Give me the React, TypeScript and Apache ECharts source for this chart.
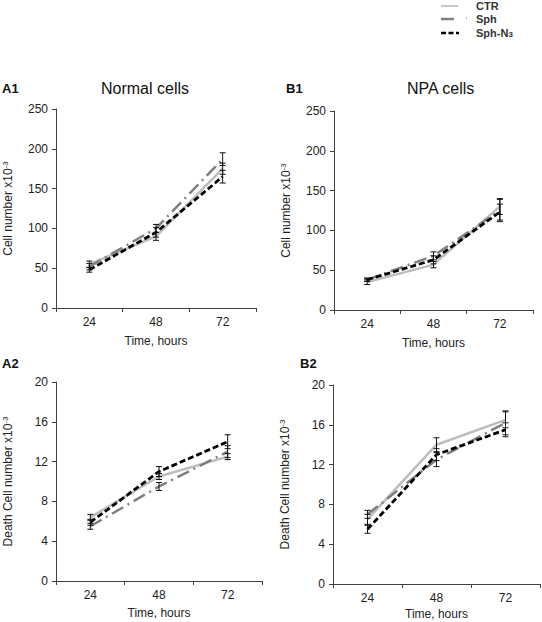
import React, { useEffect, useRef } from "react";
import * as echarts from "echarts";

const categories = ["24", "48", "72"];
const seriesNames = ["CTR", "Sph", "Sph-N3"];

// Panel A1 – Normal cells, cell number x10^-3
const a1CTR = [55, 90, 175];
const a1Sph = [52, 100, 187];
const a1SphN3 = [48, 95, 165];
const a1CTRErr = [4, 5, 7];
const a1SphErr = [4, 5, 8];
const a1SphN3Err = [3, 6, 8];

// Panel B1 – NPA cells, cell number x10^-3
const b1CTR = [35, 57, 130];
const b1Sph = [38, 68, 125];
const b1SphN3 = [38, 63, 123];
const b1CTRErr = [3, 4, 10];
const b1SphErr = [2, 5, 14];
const b1SphN3Err = [2, 5, 10];

// Panel A2 – Normal cells, death cell number x10^-3
const a2CTR = [6.4, 10.5, 12.5];
const a2Sph = [5.5, 9.5, 13];
const a2SphN3 = [5.9, 11, 14];
const a2CTRErr = [0.3, 0.3, 0.3];
const a2SphErr = [0.3, 0.4, 0.6];
const a2SphN3Err = [0.3, 0.5, 0.7];

// Panel B2 – NPA cells, death cell number x10^-3
const b2CTR = [6.5, 14, 16.5];
const b2Sph = [7, 12.5, 16.2];
const b2SphN3 = [5.5, 13, 15.5];
const b2CTRErr = [0.5, 0.7, 0.8];
const b2SphErr = [0.4, 0.7, 1.2];
const b2SphN3Err = [0.4, 0.6, 0.7];

const FONT = "'Liberation Sans', Arial, sans-serif";
const TXT = "#222";

const lineStyles = [
  { color: "#bdbdbd", width: 2.5, type: "solid" as any },
  { color: "#7f7f7f", width: 2.5, type: [13, 5, 2, 5] as any },
  { color: "#000000", width: 2.8, type: [6, 3] as any },
];

export default function App() {
  const ref = useRef<HTMLDivElement>(null);
  useEffect(() => {
    if (!ref.current) return;
    const chart = echarts.init(ref.current, null, { renderer: "svg" });

    const grids = [
      { left: 56, top: 109, width: 200, height: 199 },
      { left: 334, top: 111, width: 199, height: 199 },
      { left: 56, top: 382, width: 206, height: 199 },
      { left: 333, top: 385, width: 207, height: 199 },
    ];
    const xNameGaps = [27, 27, 26, 24];

    const panels = [
      { vals: [a1CTR, a1Sph, a1SphN3], errs: [a1CTRErr, a1SphErr, a1SphN3Err], max: 250, interval: 50, name: "Cell number x10" },
      { vals: [b1CTR, b1Sph, b1SphN3], errs: [b1CTRErr, b1SphErr, b1SphN3Err], max: 250, interval: 50, name: "Cell number x10" },
      { vals: [a2CTR, a2Sph, a2SphN3], errs: [a2CTRErr, a2SphErr, a2SphN3Err], max: 20, interval: 4, name: "Death Cell number x10" },
      { vals: [b2CTR, b2Sph, b2SphN3], errs: [b2CTRErr, b2SphErr, b2SphN3Err], max: 20, interval: 4, name: "Death Cell number x10" },
    ];

    const axisLine = { show: true, lineStyle: { color: "#404040", width: 1 } };

    const xAxis = grids.map((_, i) => ({
      type: "category",
      gridIndex: i,
      data: categories,
      boundaryGap: true,
      axisLine,
      axisTick: { show: true, length: 4, lineStyle: { color: "#404040" } },
      axisLabel: { color: TXT, fontSize: 12, fontFamily: FONT, margin: 8 },
      name: "Time, hours",
      nameLocation: "middle",
      nameGap: xNameGaps[i],
      nameTextStyle: { color: TXT, fontSize: 12, fontFamily: FONT, fontWeight: "normal" },
    }));

    const yAxis = panels.map((p, i) => ({
      type: "value",
      gridIndex: i,
      min: 0,
      max: p.max,
      interval: p.interval,
      splitLine: { show: false },
      axisLine,
      axisTick: { show: true, length: 4, lineStyle: { color: "#404040" } },
      axisLabel: { color: TXT, fontSize: 12, fontFamily: FONT, margin: 8 },
      name: p.name + "{sup|-3}",
      nameLocation: "middle",
      nameGap: 41,
      nameTextStyle: {
        color: TXT,
        fontSize: 12,
        fontFamily: FONT,
        fontWeight: "normal",
        rich: {
          sup: { fontSize: 8, fontFamily: FONT, color: TXT, verticalAlign: "top", lineHeight: 14 },
        },
      },
    }));

    const series: any[] = [];
    panels.forEach((p, gi) => {
      p.vals.forEach((vals, si) => {
        series.push({
          type: "line",
          name: seriesNames[si],
          xAxisIndex: gi,
          yAxisIndex: gi,
          data: vals,
          symbol: "none",
          lineStyle: lineStyles[si],
          z: 2 + si,
        });
      });
      p.vals.forEach((vals, si) => {
        const errData = vals.map((v, k) => [k, v - p.errs[si][k], v + p.errs[si][k]]);
        series.push({
          type: "custom",
          xAxisIndex: gi,
          yAxisIndex: gi,
          z: 10,
          data: errData,
          encode: { x: 0, y: [1, 2] },
          renderItem: (params: any, api: any) => {
            const x = api.value(0);
            const lo = api.coord([x, api.value(1)]);
            const hi = api.coord([x, api.value(2)]);
            const cap = 3;
            const st = { stroke: "#111", lineWidth: 1 };
            return {
              type: "group",
              children: [
                { type: "line", shape: { x1: lo[0], y1: lo[1], x2: hi[0], y2: hi[1] }, style: st },
                { type: "line", shape: { x1: lo[0] - cap, y1: lo[1], x2: lo[0] + cap, y2: lo[1] }, style: st },
                { type: "line", shape: { x1: hi[0] - cap, y1: hi[1], x2: hi[0] + cap, y2: hi[1] }, style: st },
              ],
            };
          },
        });
      });
    });

    const bold = { fontFamily: FONT, fontWeight: "bold", fontSize: 13, fill: "#111" };
    const titleStyle = { fontFamily: FONT, fontSize: 16, fill: "#111" };
    const legendText = { fontFamily: FONT, fontWeight: "bold", fontSize: 11, lineHeight: 11, fill: "#333" };

    const graphic: any[] = [
      { type: "text", x: 2, y: 88, style: { ...bold, text: "A1", verticalAlign: "middle" } },
      { type: "text", x: 286, y: 88, style: { ...bold, text: "B1", verticalAlign: "middle" } },
      { type: "text", x: 2, y: 363, style: { ...bold, text: "A2", verticalAlign: "middle" } },
      { type: "text", x: 300, y: 363, style: { ...bold, text: "B2", verticalAlign: "middle" } },
      { type: "text", x: 101, y: 88, style: { ...titleStyle, text: "Normal cells", verticalAlign: "middle" } },
      { type: "text", x: 407, y: 88, style: { ...titleStyle, text: "NPA cells", verticalAlign: "middle" } },
      { type: "line", shape: { x1: 441, y1: 6, x2: 458, y2: 6 }, style: { stroke: "#c8c8c8", lineWidth: 2 } },
      { type: "line", shape: { x1: 441, y1: 19, x2: 454, y2: 19 }, style: { stroke: "#7f7f7f", lineWidth: 2.5 } },
      { type: "line", shape: { x1: 466, y1: 18, x2: 467, y2: 18 }, style: { stroke: "#9a9a9a", lineWidth: 1.5 } },
      { type: "line", shape: { x1: 441, y1: 33, x2: 459, y2: 33 }, style: { stroke: "#000", lineWidth: 2.5, lineDash: [5, 2.5] } },
      { type: "text", x: 476, y: 6, style: { ...legendText, text: "CTR", verticalAlign: "middle" } },
      { type: "text", x: 476, y: 19, style: { ...legendText, text: "Sph", verticalAlign: "middle" } },
      {
        type: "text",
        x: 476,
        y: 33,
        style: {
          ...legendText,
          text: "Sph-N{s|3}",
          verticalAlign: "middle",
          rich: { s: { fontFamily: FONT, fontWeight: "bold", fontSize: 8, fill: "#333", verticalAlign: "bottom", padding: [5, 0, 0, 0] } },
        },
      },
    ];

    chart.setOption({
      animation: false,
      backgroundColor: "#ffffff",
      grid: grids.map((g) => ({ ...g, containLabel: false, outerBoundsMode: "none" })),
      xAxis,
      yAxis,
      series,
      graphic,
    } as any);

    return () => chart.dispose();
  }, []);

  return (
    <div
      ref={ref}
      style={{ position: "absolute", left: 0, top: 0, width: 542, height: 622, background: "#fff" }}
    />
  );
}
